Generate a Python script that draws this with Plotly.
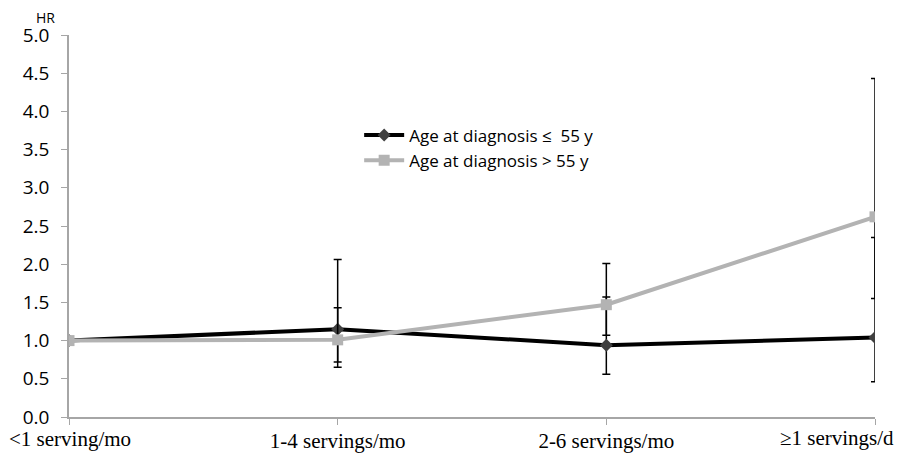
import plotly.graph_objects as go

categories = ["<1 serving/mo", "1-4 servings/mo", "2-6 servings/mo", "≥1 servings/d"]
hr_young = [1.0, 1.15, 0.94, 1.04]
lo_young = [1.0, 0.65, 0.56, 0.46]
hi_young = [1.0, 2.06, 1.57, 2.35]
hr_old = [1.0, 1.01, 1.47, 2.62]
lo_old = [1.0, 0.72, 1.07, 1.55]
hi_old = [1.0, 1.43, 2.01, 4.43]
y_ticks = [0.0, 0.5, 1.0, 1.5, 2.0, 2.5, 3.0, 3.5, 4.0, 4.5, 5.0]

xpos = list(range(len(categories)))

def errs(hr, lo, hi):
    plus = [None if i == 0 else h - v for i, (v, h) in enumerate(zip(hr, hi))]
    minus = [None if i == 0 else v - l for i, (v, l) in enumerate(zip(hr, lo))]
    return plus, minus

py, my = errs(hr_young, lo_young, hi_young)
po, mo = errs(hr_old, lo_old, hi_old)

fig = go.Figure()
fig.add_trace(go.Scatter(
    x=xpos, y=hr_young, mode="lines+markers", name="Age at diagnosis ≤  55 y",
    line=dict(color="#000000", width=4),
    marker=dict(symbol="diamond", size=10, color="#404040"),
    error_y=dict(type="data", symmetric=False, array=py, arrayminus=my,
                 color="#000000", thickness=1.5, width=4),
))
fig.add_trace(go.Scatter(
    x=xpos, y=hr_old, mode="lines+markers", name="Age at diagnosis > 55 y",
    line=dict(color="#b3b3b3", width=4),
    marker=dict(symbol="square", size=11, color="#b3b3b3"),
    error_y=dict(type="data", symmetric=False, array=po, arrayminus=mo,
                 color="#000000", thickness=1.5, width=4),
))

# the edge category labels are kept inside the picture (as in the reference) via annotations
ticktext = [""] + categories[1:-1] + [""]
label_font = dict(family="Liberation Serif, serif", size=21, color="#000000")

# the page has an 8px body margin, so the figure is 8px smaller and margins compensate
fig.update_layout(
    width=896, height=446,
    margin=dict(l=61, r=29, t=27, b=37),
    paper_bgcolor="white", plot_bgcolor="white",
    font=dict(family="Open Sans, Liberation Sans, sans-serif", color="#000000"),
    showlegend=True,
    legend=dict(x=0.36, y=0.784, xanchor="left", yanchor="top",
                bgcolor="rgba(0,0,0,0)", font=dict(size=17),
                tracegroupgap=0, itemwidth=40),
    xaxis=dict(
        range=[0, 3], tickmode="array", tickvals=xpos, ticktext=ticktext,
        showgrid=False, zeroline=False, showline=True, linecolor="#a6a6a6", linewidth=1.5,
        ticks="outside", ticklen=6, tickcolor="#a6a6a6", automargin=False,
        ticklabelstandoff=-2,
        tickfont=label_font,
    ),
    yaxis=dict(
        range=[0, 5], tickmode="array", tickvals=y_ticks,
        ticktext=[f"{v:.1f}" for v in y_ticks],
        showgrid=False, zeroline=False, showline=True, linecolor="#a6a6a6", linewidth=1.5,
        ticks="outside", ticklen=6, tickcolor="#a6a6a6", automargin=False,
        ticklabelstandoff=8,
        tickfont=dict(size=19),
    ),
    annotations=[
        dict(text="HR", xref="paper", yref="paper", x=(45 - 69) / 806, y=1.0,
             xanchor="center", yanchor="bottom", showarrow=False,
             font=dict(size=14), yshift=6),
        dict(text=categories[0], xref="paper", yref="paper", x=(7 - 69) / 806, y=0,
             xanchor="left", yanchor="top", showarrow=False, yshift=-8,
             font=label_font),
        dict(text=categories[-1], xref="paper", yref="paper", x=(896 - 69) / 806, y=0,
             xanchor="right", yanchor="top", showarrow=False, yshift=-7,
             font=label_font),
    ],
)

fig.write_html("out.html")
